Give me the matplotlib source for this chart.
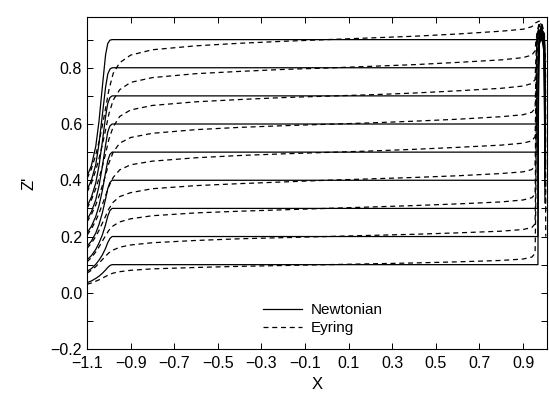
"""Streamline sketch: Newtonian (solid) vs Eyring (dashed) paths in the X-Z' plane."""
import matplotlib
matplotlib.use("Agg")
import matplotlib.pyplot as plt  # noqa: E402

plt.rcParams["font.family"] = ["Liberation Sans", "DejaVu Sans"]

# --- data ----------------------------------------------------------------
LEVELS = [0.1, 0.2, 0.3, 0.4, 0.5, 0.6, 0.7, 0.8, 0.9]

# Newtonian streamlines: shared x knots, one y list per level
NEWT_X = [-1.1, -1.08, -1.06, -1.045, -1.03, -1.015, -1.005, -0.995, -0.985,
          0.968, 0.971, 0.975, 0.983, 0.991, 0.997, 1.0]
NEWT_Y = [
    [0.036, 0.042, 0.051, 0.059, 0.069, 0.081, 0.090, 0.097, 0.100, 0.100,
     0.805, 0.885, 0.905, 0.885, 0.845, 0.80],
    [0.076, 0.086, 0.101, 0.116, 0.134, 0.158, 0.178, 0.193, 0.200, 0.200,
     0.810, 0.890, 0.910, 0.890, 0.850, 0.74],
    [0.117, 0.132, 0.154, 0.177, 0.205, 0.242, 0.272, 0.292, 0.300, 0.300,
     0.815, 0.895, 0.915, 0.895, 0.855, 0.68],
    [0.165, 0.184, 0.212, 0.243, 0.283, 0.333, 0.370, 0.392, 0.400, 0.400,
     0.820, 0.900, 0.920, 0.900, 0.860, 0.62],
    [0.213, 0.236, 0.271, 0.310, 0.362, 0.427, 0.469, 0.492, 0.500, 0.500,
     0.825, 0.905, 0.925, 0.905, 0.865, 0.56],
    [0.260, 0.288, 0.330, 0.380, 0.447, 0.525, 0.571, 0.593, 0.600, 0.600,
     0.830, 0.910, 0.930, 0.910, 0.870, 0.50],
    [0.307, 0.340, 0.390, 0.452, 0.535, 0.625, 0.673, 0.694, 0.700, 0.700,
     0.835, 0.915, 0.935, 0.915, 0.875, 0.44],
    [0.366, 0.400, 0.455, 0.530, 0.630, 0.730, 0.777, 0.795, 0.800, 0.800,
     0.840, 0.920, 0.940, 0.920, 0.880, 0.38],
    [0.414, 0.452, 0.520, 0.610, 0.730, 0.845, 0.886, 0.898, 0.900, 0.900,
     0.905, 0.925, 0.945, 0.925, 0.885, 0.32],
]

# Eyring streamlines
EYR_X = [-1.1, -1.08, -1.06, -1.045, -1.03, -1.015, -1.0, -0.98, -0.95, -0.9,
         -0.8, -0.6, -0.4, -0.2, 0.0, 0.2, 0.4, 0.6, 0.8, 0.9, 0.94, 0.955,
         0.958, 0.964, 0.974, 0.986, 0.998, 1.004]
EYR_Y = [
    [0.030, 0.035, 0.041, 0.046, 0.052, 0.058, 0.064, 0.070, 0.075, 0.080,
     0.085, 0.090, 0.094, 0.097, 0.100, 0.103, 0.106, 0.110, 0.115, 0.120,
     0.127, 0.140, 0.300, 0.894, 0.934, 0.925, 0.880, 0.82],
    [0.070, 0.080, 0.093, 0.105, 0.118, 0.130, 0.142, 0.152, 0.162, 0.170,
     0.178, 0.186, 0.192, 0.196, 0.200, 0.204, 0.208, 0.213, 0.219, 0.225,
     0.232, 0.245, 0.400, 0.898, 0.938, 0.928, 0.888, 0.75],
    [0.110, 0.125, 0.145, 0.163, 0.183, 0.203, 0.222, 0.238, 0.252, 0.263,
     0.274, 0.284, 0.290, 0.295, 0.300, 0.305, 0.310, 0.316, 0.323, 0.330,
     0.338, 0.350, 0.500, 0.902, 0.942, 0.932, 0.892, 0.68],
    [0.158, 0.176, 0.200, 0.222, 0.247, 0.272, 0.298, 0.322, 0.342, 0.356,
     0.370, 0.381, 0.388, 0.394, 0.400, 0.405, 0.410, 0.416, 0.424, 0.430,
     0.438, 0.452, 0.580, 0.906, 0.946, 0.936, 0.896, 0.60],
    [0.205, 0.227, 0.256, 0.283, 0.313, 0.345, 0.378, 0.410, 0.437, 0.455,
     0.468, 0.480, 0.488, 0.494, 0.499, 0.504, 0.510, 0.517, 0.525, 0.532,
     0.540, 0.555, 0.660, 0.910, 0.950, 0.940, 0.900, 0.52],
    [0.252, 0.278, 0.312, 0.344, 0.380, 0.418, 0.460, 0.500, 0.532, 0.552,
     0.567, 0.580, 0.588, 0.594, 0.599, 0.604, 0.610, 0.617, 0.626, 0.633,
     0.642, 0.656, 0.740, 0.914, 0.954, 0.944, 0.904, 0.44],
    [0.300, 0.330, 0.370, 0.407, 0.448, 0.494, 0.545, 0.590, 0.627, 0.650,
     0.666, 0.679, 0.687, 0.694, 0.699, 0.704, 0.710, 0.718, 0.727, 0.735,
     0.744, 0.758, 0.820, 0.918, 0.958, 0.948, 0.908, 0.36],
    [0.358, 0.390, 0.435, 0.477, 0.525, 0.578, 0.635, 0.685, 0.722, 0.748,
     0.765, 0.779, 0.787, 0.794, 0.799, 0.805, 0.811, 0.819, 0.828, 0.836,
     0.845, 0.860, 0.890, 0.922, 0.962, 0.952, 0.912, 0.28],
    [0.406, 0.440, 0.490, 0.537, 0.593, 0.655, 0.720, 0.780, 0.818, 0.845,
     0.864, 0.878, 0.887, 0.894, 0.900, 0.906, 0.912, 0.920, 0.930, 0.937,
     0.946, 0.955, 0.960, 0.962, 0.966, 0.958, 0.920, 0.20],
]

X_TICKS = [-1.1, -0.9, -0.7, -0.5, -0.3, -0.1, 0.1, 0.3, 0.5, 0.7, 0.9]
X_LABELS = ["\u22121.1", "\u22120.9", "\u22120.7", "\u22120.5", "\u22120.3",
            "\u22120.1", "0.1", "0.3", "0.5", "0.7", "0.9"]
Y_TICKS = [-0.2, 0.0, 0.2, 0.4, 0.6, 0.8]
Y_LABELS = ["\u22120.2", "0.0", "0.2", "0.4", "0.6", "0.8"]
Y_MINOR = [-0.1, 0.1, 0.3, 0.5, 0.7, 0.9]

# --- figure --------------------------------------------------------------
dpi = 100
fig = plt.figure(figsize=(549 / dpi, 398 / dpi), dpi=dpi)
ax = fig.add_axes([0.1585, 0.123, 0.838, 0.834])

for i, ys in enumerate(NEWT_Y):
    ax.plot(NEWT_X, ys, color="black", linewidth=0.9,
            label="Newtonian" if i == 0 else None)
for i, ys in enumerate(EYR_Y):
    ax.plot(EYR_X, ys, color="black", linewidth=0.9,
            linestyle=(0, (4, 3)), label="Eyring" if i == 0 else None)

ax.set_xlim(-1.1, 1.01)
ax.set_ylim(-0.2, 0.98)
ax.set_xticks(X_TICKS, X_LABELS)
ax.set_yticks(Y_TICKS, Y_LABELS)
ax.set_yticks(Y_MINOR, minor=True)
ax.tick_params(which="both", direction="in", top=True, right=True,
               length=4.5, width=0.7, labelsize=11.5)
ax.tick_params(axis="x", pad=5)
for s in ax.spines.values():
    s.set_linewidth(0.8)

ax.set_xlabel("X", fontsize=12, labelpad=4)
ax.set_ylabel("Z'", fontsize=12, labelpad=10)

ax.legend(loc="center left", bbox_to_anchor=(0.36, 0.09), frameon=False,
          fontsize=11, handlelength=2.5, handletextpad=0.6,
          labelspacing=0.3, borderpad=0.2)

fig.savefig("out.png", dpi=dpi)
plt.close(fig)
